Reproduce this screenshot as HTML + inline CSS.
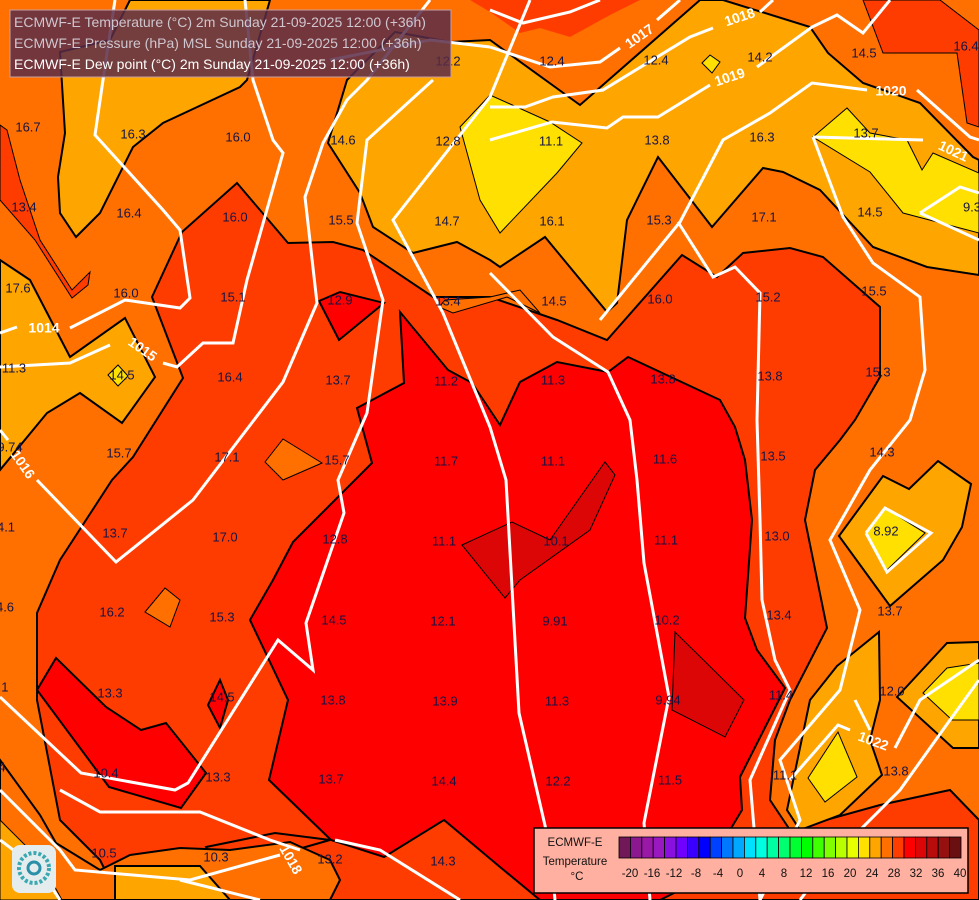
<!DOCTYPE html>
<html><head><meta charset="utf-8"><style>
html,body{margin:0;padding:0;background:#ff7000;}
svg{display:block;}
text{font-family:"Liberation Sans",sans-serif;}
.l{font-size:13px;fill:#141446;text-anchor:middle;dominant-baseline:middle;}
.i{font-size:14px;fill:#fff;font-weight:bold;text-anchor:middle;dominant-baseline:middle;}
.w{fill:none;stroke:#fff;stroke-width:3;stroke-linejoin:miter;}
.k{stroke:#000;stroke-width:2;}
.t{stroke:#000;stroke-width:1;}
</style></head><body>
<svg width="979" height="900" viewBox="0 0 979 900" xmlns="http://www.w3.org/2000/svg">
<rect width="979" height="900" fill="#ff7000"/>
<polygon class="k" fill="#ffa500" points="60,52,110,40,130,0,270,0,247,80,240,87,163,123,133,147,100,213,76,237,60,213,58,177,65,133"/>
<polygon class="k" fill="#ffa500" points="347,80,395,32,450,42,490,40,580,105,700,0,723,0,810,27,828,53,863,83,920,103,973,157,979,160,979,275,927,267,873,247,820,190,783,172,763,168,712,227,658,157,627,220,617,303,607,312,545,237,500,267,490,260,457,242,413,253,373,227,360,193,328,143"/>
<polygon fill="#ff3c00" points="470,0,640,0,610,15,570,37,540,28,520,33,490,12"/>
<polygon class="t" fill="#ff3c00" points="863,0,940,0,979,30,979,127,967,123,957,53,883,53"/>
<polygon class="t" fill="#ff3c00" points="0,125,7,130,20,180,40,240,72,290,90,272,88,285,72,298,35,240,0,200"/>
<polygon class="t" fill="#ffe000" points="460,127,490,95,550,122,582,143,557,173,500,233,480,200"/>
<polygon class="t" fill="#ffe000" points="813,137,847,108,870,133,907,140,922,170,933,153,979,173,979,233,903,213,870,172"/>
<polygon class="t" fill="#ffe000" points="702,63,710,55,720,62,712,73"/>
<polygon class="k" fill="#ffa500" points="0,260,30,280,70,357,125,318,155,377,122,423,80,393,47,413,0,470"/>
<polygon class="t" fill="#ffe000" points="108,375,118,365,128,376,118,386"/>
<polygon class="k" fill="#ff3c00" points="152,297,182,232,237,183,288,243,333,242,363,250,433,297,490,297,557,320,607,340,682,255,717,277,743,253,790,248,823,257,880,307,880,377,855,420,840,440,815,470,805,520,827,628,790,700,775,740,770,800,790,830,880,805,950,790,979,820,979,900,0,900,0,820,40,830,62,863,90,900,230,900,206,847,275,833,330,840,120,900,100,860,60,820,37,700,37,613,60,560,112,480,133,457,183,378"/>
<polygon class="k" fill="#ff7000" points="0,760,40,815,56,843,100,870,130,855,180,848,230,850,290,842,330,860,340,880,330,900,0,900"/>
<polygon class="t" fill="#ffa500" points="0,820,40,860,62,900,0,900"/>
<polygon class="k" fill="#ffa500" points="115,866,200,866,230,900,115,900"/>
<polygon class="t" fill="#ff7000" points="439,307,453,313,507,297,540,313,520,290,490,297,445,300"/>
<polygon class="t" fill="#ff7000" points="265,462,283,439,322,463,283,480"/>
<polygon class="t" fill="#ff7000" points="145,612,165,588,180,600,170,627"/>
<polygon class="k" fill="#ff0000" points="319,301,340,292,384,303,339,340"/>
<polygon class="k" fill="#ff0000" points="400,312,448,370,472,383,500,425,520,382,557,362,608,372,628,357,720,400,735,427,745,460,752,520,745,618,757,650,785,688,740,777,742,810,700,880,660,900,540,900,500,867,444,820,384,857,331,840,269,780,288,700,250,620,273,580,293,542,372,463,357,408,404,383"/>
<polygon class="k" fill="#ff0000" points="56,658,37,690,109,787,181,808,206,773,166,723,141,730,106,707"/>
<polygon class="k" fill="#ff0000" points="220,680,228,700,220,728,208,705"/>
<polygon class="t" fill="#dd0606" points="462,545,512,522,550,540,605,462,615,475,590,530,520,580,505,598"/>
<polygon class="t" fill="#dd0606" points="675,632,744,700,725,737,672,710"/>
<polygon class="k" fill="#ffa500" points="839,536,883,476,909,489,938,461,971,484,962,527,943,560,890,606"/>
<polygon class="t" fill="#ffe000" points="866,533,885,508,925,533,887,570"/>
<polygon class="k" fill="#ffa500" points="837,666,879,632,880,700,870,740,882,775,840,815,800,830,787,810,810,700"/>
<polygon class="t" fill="#ffe000" points="808,778,838,732,857,777,825,802"/>
<polygon class="k" fill="#ffa500" points="897,697,947,643,979,642,979,748,953,748"/>
<polygon class="t" fill="#ffe000" points="923,693,947,668,979,663,979,720,952,720"/>
<polyline class="w" points="0,333,17,327"/>
<polyline class="w" points="70,328,125,300,180,308,190,298,180,230,163,210,95,135,103,80,115,0"/>
<polyline class="w" points="0,367,70,363,110,345"/>
<polyline class="w" points="163,363,177,367,203,343,233,343,247,280,283,153,273,140,253,80,245,0"/>
<polyline class="w" points="0,430,8,440"/>
<polyline class="w" points="37,480,116,562,193,500,283,382,317,303,305,197,323,143,347,100,367,80,430,0"/>
<polyline class="w" points="433,80,367,140,357,223,383,300,367,413,338,480,344,513,306,623,313,670,278,640,188,783,175,790,81,773,0,697"/>
<polyline class="w" points="530,0,490,97,393,220,443,313,490,427,506,480,519,713,550,847,555,900"/>
<polyline class="w" points="490,273,553,337,608,372,630,420,637,480,644,563,669,697,644,823,650,900"/>
<polyline class="w" points="490,140,552,122,607,128,623,117,658,117,710,85"/>
<polyline class="w" points="757,67,812,27,837,15,863,33,890,0"/>
<polyline class="w" points="490,47,550,67,600,62,620,48"/>
<polyline class="w" points="657,20,680,0"/>
<polyline class="w" points="330,60,430,40,490,47"/>
<polyline class="w" points="490,10,523,23,570,12,600,0"/>
<polyline class="w" points="490,107,525,107,553,97,603,90,690,37,713,28"/>
<polyline class="w" points="760,12,773,0"/>
<polyline class="w" points="600,320,680,222,723,140,770,113,812,83,867,90"/>
<polyline class="w" points="917,90,970,137,979,140"/>
<polyline class="w" points="678,222,713,277,735,267,760,293,757,420,760,520,762,600,775,660,790,690,750,780,760,900"/>
<polyline class="w" points="813,137,923,140"/>
<polyline class="w" points="813,137,843,217,873,263,920,297,925,370,910,420,870,470,830,540,860,610,840,690,780,760,800,820,760,900"/>
<polyline class="w" points="920,213,960,187,979,193"/>
<polyline class="w" points="979,240,920,213"/>
<polyline class="w" points="866,533,885,508,931,533,887,572,866,533"/>
<polyline class="w" points="800,900,830,860,900,790,950,720,979,680"/>
<polyline class="w" points="855,700,870,730"/>
<polyline class="w" points="790,780,838,725,850,730"/>
<polyline class="w" points="895,748,920,700,979,660"/>
<polyline class="w" points="0,840,40,870,60,900"/>
<polyline class="w" points="0,790,60,850,75,870,190,880,280,855"/>
<polyline class="w" points="60,790,100,812,200,812,270,840,300,850"/>
<polyline class="w" points="180,880,260,900"/>
<polyline class="w" points="335,840,380,850,460,900"/>
<text class="i" x="44" y="329">1014</text>
<text class="i" x="142" y="350" transform="rotate(35 142 350)">1015</text>
<text class="i" x="22" y="465" transform="rotate(55 22 465)">1016</text>
<text class="i" x="640" y="37" transform="rotate(-35 640 37)">1017</text>
<text class="i" x="740" y="18" transform="rotate(-18 740 18)">1018</text>
<text class="i" x="730" y="78" transform="rotate(-18 730 78)">1019</text>
<text class="i" x="891" y="92">1020</text>
<text class="i" x="953" y="152" transform="rotate(25 953 152)">1021</text>
<text class="i" x="873" y="742" transform="rotate(20 873 742)">1022</text>
<text class="i" x="290" y="860" transform="rotate(60 290 860)">1018</text>
<g>
<text class="l" x="448" y="62">12.2</text><text class="l" x="552" y="62">12.4</text><text class="l" x="656" y="61">12.4</text><text class="l" x="760" y="58">14.2</text><text class="l" x="864" y="54">14.5</text><text class="l" x="966" y="47">16.4</text>
<text class="l" x="28" y="128">16.7</text><text class="l" x="133" y="135">16.3</text><text class="l" x="238" y="138">16.0</text><text class="l" x="343" y="141">14.6</text><text class="l" x="448" y="142">12.8</text><text class="l" x="551" y="142">11.1</text><text class="l" x="657" y="141">13.8</text><text class="l" x="762" y="138">16.3</text><text class="l" x="866" y="134">13.7</text>
<text class="l" x="24" y="208">13.4</text><text class="l" x="129" y="214">16.4</text><text class="l" x="235" y="218">16.0</text><text class="l" x="341" y="221">15.5</text><text class="l" x="447" y="222">14.7</text><text class="l" x="552" y="222">16.1</text><text class="l" x="659" y="221">15.3</text><text class="l" x="764" y="218">17.1</text><text class="l" x="870" y="213">14.5</text><text class="l" x="972" y="208">9.3</text>
<text class="l" x="18" y="289">17.6</text><text class="l" x="126" y="294">16.0</text><text class="l" x="233" y="298">15.1</text><text class="l" x="340" y="301">12.9</text><text class="l" x="448" y="302">13.4</text><text class="l" x="554" y="302">14.5</text><text class="l" x="660" y="300">16.0</text><text class="l" x="768" y="298">15.2</text><text class="l" x="874" y="292">15.5</text>
<text class="l" x="14" y="369">11.3</text><text class="l" x="122" y="376">14.5</text><text class="l" x="230" y="378">16.4</text><text class="l" x="338" y="381">13.7</text><text class="l" x="446" y="382">11.2</text><text class="l" x="553" y="381">11.3</text><text class="l" x="663" y="380">13.8</text><text class="l" x="770" y="377">13.8</text><text class="l" x="878" y="373">15.3</text>
<text class="l" x="10" y="448">9.74</text><text class="l" x="119" y="454">15.7</text><text class="l" x="227" y="458">17.1</text><text class="l" x="337" y="461">15.7</text><text class="l" x="446" y="462">11.7</text><text class="l" x="553" y="462">11.1</text><text class="l" x="665" y="460">11.6</text><text class="l" x="773" y="457">13.5</text><text class="l" x="882" y="453">14.3</text>
<text class="l" x="6" y="528">4.1</text><text class="l" x="115" y="534">13.7</text><text class="l" x="225" y="538">17.0</text><text class="l" x="335" y="540">12.8</text><text class="l" x="444" y="542">11.1</text><text class="l" x="556" y="542">10.1</text><text class="l" x="666" y="541">11.1</text><text class="l" x="777" y="537">13.0</text><text class="l" x="886" y="532">8.92</text>
<text class="l" x="5" y="608">4.6</text><text class="l" x="112" y="613">16.2</text><text class="l" x="222" y="618">15.3</text><text class="l" x="334" y="621">14.5</text><text class="l" x="443" y="622">12.1</text><text class="l" x="555" y="622">9.91</text><text class="l" x="667" y="621">10.2</text><text class="l" x="779" y="616">13.4</text><text class="l" x="890" y="612">13.7</text>
<text class="l" x="3" y="688">.1</text><text class="l" x="110" y="694">13.3</text><text class="l" x="222" y="698">14.5</text><text class="l" x="333" y="701">13.8</text><text class="l" x="445" y="702">13.9</text><text class="l" x="557" y="702">11.3</text><text class="l" x="668" y="701">9.94</text><text class="l" x="781" y="696">11.4</text><text class="l" x="892" y="692">12.0</text>
<text class="l" x="2" y="768">4</text><text class="l" x="106" y="774">10.4</text><text class="l" x="218" y="778">13.3</text><text class="l" x="331" y="780">13.7</text><text class="l" x="444" y="782">14.4</text><text class="l" x="558" y="782">12.2</text><text class="l" x="670" y="781">11.5</text><text class="l" x="785" y="776">11.1</text><text class="l" x="896" y="772">13.8</text>
<text class="l" x="104" y="854">10.5</text><text class="l" x="216" y="858">10.3</text><text class="l" x="330" y="860">13.2</text><text class="l" x="443" y="862">14.3</text>
</g>
<rect x="10" y="10" width="441" height="67" fill="#5a2c48" fill-opacity="0.85" stroke="#c8a0a0" stroke-width="1"/>
<text x="14" y="27" font-size="14" fill="#cfc6cf">ECMWF-E Temperature (°C) 2m Sunday 21-09-2025 12:00 (+36h)</text>
<text x="14" y="48" font-size="14" fill="#cfc6cf">ECMWF-E Pressure (hPa) MSL Sunday 21-09-2025 12:00 (+36h)</text>
<text x="14" y="69" font-size="14" fill="#ffffff">ECMWF-E Dew point (°C) 2m Sunday 21-09-2025 12:00 (+36h)</text>
<rect x="12" y="845" width="44" height="48" rx="8" fill="#e4ecee"/>
<circle cx="34" cy="868" r="15" fill="none" stroke="#3aa8b0" stroke-width="4" stroke-dasharray="3 2"/>
<circle cx="34" cy="868" r="6" fill="none" stroke="#2a90a8" stroke-width="3"/>
<rect x="534" y="828" width="434" height="65" fill="#ffb0a0" stroke="#000" stroke-width="1.5"/>
<text x="575" y="846" font-size="11.5" fill="#111" text-anchor="middle">ECMWF-E</text>
<text x="575" y="865" font-size="11.5" fill="#111" text-anchor="middle">Temperature</text>
<text x="577" y="880" font-size="11.5" fill="#111" text-anchor="middle">°C</text>
<g stroke="#000" stroke-width="0.8">
<rect x="619.0" y="837" width="11.4" height="21" fill="#701858"/><rect x="630.4" y="837" width="11.4" height="21" fill="#8c1890"/><rect x="641.8" y="837" width="11.4" height="21" fill="#9a18a8"/><rect x="653.2" y="837" width="11.4" height="21" fill="#9a18c0"/><rect x="664.6" y="837" width="11.4" height="21" fill="#8a10e0"/><rect x="676.0" y="837" width="11.4" height="21" fill="#7000ff"/><rect x="687.4" y="837" width="11.4" height="21" fill="#3a00ff"/><rect x="698.8" y="837" width="11.4" height="21" fill="#0000ff"/><rect x="710.2" y="837" width="11.4" height="21" fill="#0040ff"/><rect x="721.6" y="837" width="11.4" height="21" fill="#0078ff"/><rect x="733.0" y="837" width="11.4" height="21" fill="#00a8ff"/><rect x="744.4" y="837" width="11.4" height="21" fill="#00e0ff"/><rect x="755.8" y="837" width="11.4" height="21" fill="#00ffe0"/><rect x="767.2" y="837" width="11.4" height="21" fill="#00ffa0"/><rect x="778.6" y="837" width="11.4" height="21" fill="#00ff70"/><rect x="790.0" y="837" width="11.4" height="21" fill="#00ff30"/><rect x="801.4" y="837" width="11.4" height="21" fill="#00ff00"/><rect x="812.8" y="837" width="11.4" height="21" fill="#40ff00"/><rect x="824.2" y="837" width="11.4" height="21" fill="#80ff00"/><rect x="835.6" y="837" width="11.4" height="21" fill="#b8ff00"/><rect x="847.0" y="837" width="11.4" height="21" fill="#e8ff00"/><rect x="858.4" y="837" width="11.4" height="21" fill="#ffe000"/><rect x="869.8" y="837" width="11.4" height="21" fill="#ffa500"/><rect x="881.2" y="837" width="11.4" height="21" fill="#ff7000"/><rect x="892.6" y="837" width="11.4" height="21" fill="#ff3c00"/><rect x="904.0" y="837" width="11.4" height="21" fill="#ff0000"/><rect x="915.4" y="837" width="11.4" height="21" fill="#dd0606"/><rect x="926.8" y="837" width="11.4" height="21" fill="#b80c0c"/><rect x="938.2" y="837" width="11.4" height="21" fill="#961010"/><rect x="949.6" y="837" width="11.4" height="21" fill="#6a1010"/>
</g>
<g font-size="11.5" fill="#111" text-anchor="middle">
<text x="630" y="877">-20</text><text x="652" y="877">-16</text><text x="674" y="877">-12</text><text x="696" y="877">-8</text><text x="718" y="877">-4</text><text x="740" y="877">0</text><text x="762" y="877">4</text><text x="784" y="877">8</text><text x="806" y="877">12</text><text x="828" y="877">16</text><text x="850" y="877">20</text><text x="872" y="877">24</text><text x="894" y="877">28</text><text x="916" y="877">32</text><text x="938" y="877">36</text><text x="960" y="877">40</text>
</g>
</svg>
</body></html>
